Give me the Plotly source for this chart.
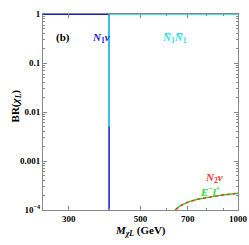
import plotly.graph_objects as go

# Data
n1nu_mass = [250, 400, 400]
n1nu_br = [1.0, 1.0, 1e-5]
n1n1_mass = [400, 400, 1000]
n1n1_br = [0.005, 1.0, 1.0]
n2nu_mass = [630, 640, 660, 700, 750, 800, 850, 900, 950, 1000]
n2nu_br = [0.8e-4, 1.0e-4, 1.2e-4, 1.45e-4, 1.65e-4, 1.8e-4, 1.92e-4, 2.02e-4, 2.12e-4, 2.2e-4]
el_mass = n2nu_mass
el_br = n2nu_br

x_tickvals = [300, 500, 700, 1000]
x_ticktext = ["300", "500", "700", "1000"]
x_minor = [400, 600, 800, 900]
y_tickvals = [1, 0.1, 0.01, 0.001, 1e-4]
y_ticktext = ["1", "0.1", "0.01", "0.001", "10<sup>−4</sup>"]
y_minor = [m * 10.0 ** e for e in range(-4, 0) for m in range(2, 10)]
x_title = "<b><i>M</i></b><sub><i><b>χL</b></i></sub><b> (GeV)</b>"
y_title = "<b>BR(</b><i><b>χ</b></i><sub><i><b>L</b></i></sub><b>)</b>"

FONT = "Liberation Serif"

fig = go.Figure()
fig.add_trace(go.Scatter(x=n1nu_mass, y=n1nu_br, mode="lines",
                         line=dict(color="#1a1adc", width=1.5)))
fig.add_trace(go.Scatter(x=n1n1_mass, y=n1n1_br, mode="lines",
                         line=dict(color="#33e0e6", width=1.5)))
fig.add_trace(go.Scatter(x=el_mass, y=el_br, mode="lines",
                         line=dict(color="#22dd22", width=1.5)))
fig.add_trace(go.Scatter(x=n2nu_mass, y=n2nu_br, mode="lines",
                         line=dict(color="#ff3030", width=1.5, dash="3px,3px")))

axis_common = dict(showgrid=False, zeroline=False, showline=True, linecolor="#888888",
                   linewidth=1, mirror="allticks", ticks="inside", ticklen=4,
                   tickcolor="#888888", tickwidth=0.8, automargin=False,
                   tickfont=dict(family=FONT, size=9, color="black"))

fig.update_xaxes(type="log", range=[2.398, 3.0], tickmode="array",
                 tickvals=x_tickvals, ticktext=[f"<b>{t}</b>" for t in x_ticktext],
                 minor=dict(tickmode="array", tickvals=x_minor, ticks="inside",
                            ticklen=2, tickcolor="#888888"),
                 **axis_common)
fig.update_yaxes(type="log", range=[-4.0, 0.004], tickmode="array",
                 tickvals=y_tickvals, ticktext=[f"<b>{t}</b>" for t in y_ticktext],
                 minor=dict(tickmode="array", tickvals=y_minor, ticks="inside",
                            ticklen=2, tickcolor="#888888"),
                 **axis_common)

ann = [
    ("<b>(b)</b>", 0.062, 0.918, "black", 0),
    ("<b><i>N</i></b><sub><b>1</b></sub><b><i>ν</i></b>", 0.246, 0.918, "#1a1adc", 0),
    ("<b><i>N̅</i></b><sub><b>1</b></sub><b><i>N̅</i></b><sub><b>1</b></sub>", 0.744, 0.918, "#33e0e6", 0),
    ("<b><i>N</i></b><sub><b>2</b></sub><b><i>ν</i></b>", 0.928, 0.125, "#ff3030", 0),
    ("<b><i>E</i></b><sup><b>−</b></sup><b><i>l</i></b><sup><b>+</b></sup>", 0.915, 0.058, "#22dd22", 0),
    (x_title, 0.5, -0.147, "black", 0),
    (y_title, -0.178, 0.53, "black", -90),
]
for text, x, y, c, ang in ann:
    fig.add_annotation(text=text, x=x, y=y, xref="paper", yref="paper", showarrow=False,
                       textangle=ang, borderpad=0, font=dict(family=FONT, size=11, color=c))

fig.update_layout(width=249, height=245, showlegend=False,
                  margin=dict(l=43, r=11, t=14, b=35),
                  paper_bgcolor="white", plot_bgcolor="white")

fig.write_html("out.html", config={"displayModeBar": False},
               post_script="document.body.style.margin='0';")
